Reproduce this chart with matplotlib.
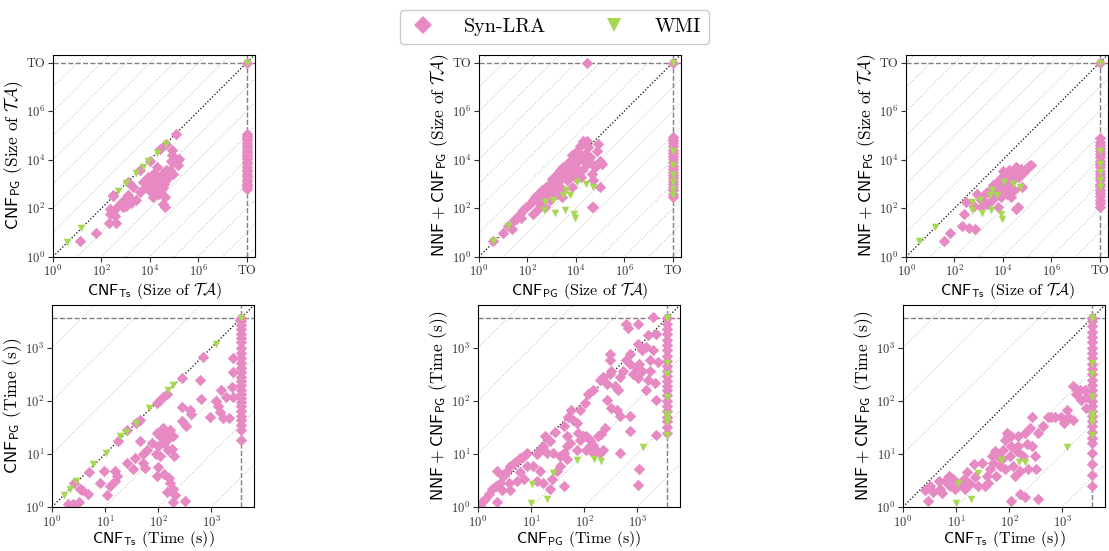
import numpy as np
import matplotlib
matplotlib.use("Agg")
import matplotlib.pyplot as plt
from matplotlib.lines import Line2D
from matplotlib.ticker import NullLocator

plt.rcParams['font.family'] = 'serif'
plt.rcParams['font.serif'] = ['cmr10', 'DejaVu Serif']
plt.rcParams['mathtext.fontset'] = 'cm'
plt.rcParams['axes.formatter.use_mathtext'] = True

PINK = '#e78ac3'
GREEN = '#a6d854'

# timeouts
TO_SIZE = 1e8
TO_TIME = 3600.0

# ---- data: values are log10 of the quantity, read from the log axes ----
# panel 1: CNF_TS vs CNF_PG (size)
p1_syn_x = [1.13, 1.79, 2.3, 2.62, 2.34, 2.62, 2.9, 2.48, 3.1, 3.24, 3.45, 3.31, 3.59, 3.86, 4.0,
            4.14, 4.28, 4.41, 4.55, 4.62, 4.62, 4.69, 4.9, 5.1, 5.21, 5.17, 4.97, 4.14, 4.34, 4.07,
            3.72, 3.93, 4.21, 4.48, 4.69, 4.28, 2.48, 3.1, 3.59, 4.0, 4.41, 4.69, 4.9, 4.87, 4.14,
            4.55, 4.2, 4.35, 4.45, 4.25, 4.5, 4.1, 4.6, 4.3, 3.95, 4.4, 4.55, 4.75, 4.85, 4.95,
            2.35, 2.55, 2.8, 3.0, 3.2, 2.95]
p1_syn_y = [0.64, 1.0, 1.4, 1.4, 1.78, 2.03, 2.05, 2.5, 2.53, 2.2, 2.33, 2.88, 2.67, 2.88, 3.15,
            3.42, 3.7, 3.29, 2.88, 2.47, 2.05, 3.56, 4.4, 5.07, 4.04, 3.77, 3.42, 3.01, 2.88, 2.67,
            3.08, 3.29, 3.22, 3.08, 3.15, 2.6, 2.53, 3.08, 3.56, 3.97, 4.45, 4.66, 4.18, 3.97, 2.47,
            2.19, 2.95, 3.1, 2.75, 3.35, 3.4, 2.8, 3.0, 2.75, 3.05, 2.6, 3.25, 3.3, 3.6, 3.9,
            1.95, 1.7, 2.2, 2.1, 2.4, 2.35]
p1_syn_to_y = [2.78, 2.86, 2.95, 3.02, 3.14, 3.22, 3.35, 3.41, 3.53, 3.6, 3.72, 3.81, 3.9, 4.02,
               4.1, 4.21, 4.33, 4.4, 4.52, 4.6, 4.71, 4.8, 4.9, 5.0, 5.06]
p1_wmi_x = [0.59, 1.17, 2.7, 3.03, 3.45, 3.7, 3.93, 4.28, 4.65]
p1_wmi_y = [0.6, 1.18, 2.72, 3.05, 3.46, 3.72, 3.95, 4.3, 4.67]
p1_wmi_to_y = []

# panel 2: CNF_PG vs NNF + CNF_PG (size)
p2_syn_x = [0.6, 1.0, 1.2, 1.38, 1.69, 1.83, 1.96, 2.1, 2.24, 2.31, 2.45, 2.59, 2.66, 2.79, 2.86,
            2.93, 3.0, 3.07, 3.14, 3.21, 3.28, 3.35, 3.42, 3.49, 3.62, 3.69, 3.76, 3.83, 3.9, 3.97,
            4.04, 4.11, 4.18, 4.25, 4.32, 4.38, 4.45, 4.52, 4.59, 4.66, 4.73, 4.8, 4.87, 4.94, 5.0,
            5.08, 5.0, 4.66, 4.73, 3.62, 3.49, 3.83, 3.21, 3.0, 2.72, 2.52, 2.38, 2.24, 2.93, 3.42,
            4.18, 4.04, 4.45, 3.3, 3.55, 3.7, 3.9, 4.1, 3.8, 2.7, 2.55, 3.1, 3.3, 3.6, 4.3, 4.6,
            4.2, 1.45, 1.55, 1.75]
p2_syn_y = [0.64, 0.99, 1.26, 1.16, 1.78, 1.92, 2.05, 2.19, 2.33, 2.47, 2.6, 2.74, 2.47, 2.88, 2.67,
            3.01, 3.22, 3.15, 2.88, 3.42, 3.08, 3.56, 3.29, 3.7, 3.84, 3.49, 3.97, 4.18, 3.7, 3.29,
            4.38, 3.97, 4.59, 3.56, 4.79, 4.25, 3.84, 4.52, 4.11, 3.42, 3.15, 3.7, 4.38, 4.66, 3.97,
            3.84, 2.88, 2.05, 2.05, 3.15, 2.74, 2.88, 2.6, 2.47, 2.05, 2.19, 1.92, 1.78, 2.33, 2.47,
            4.25, 4.04, 4.79, 3.3, 3.4, 3.2, 3.5, 3.6, 3.6, 2.8, 2.4, 2.75, 2.9, 3.55, 4.0, 3.9,
            3.3, 1.5, 1.55, 1.6]
p2_syn_to_y = [2.47, 2.6, 2.75, 2.88, 3.0, 3.12, 3.25, 3.38, 3.5, 3.62, 3.75, 3.9, 4.02, 4.15,
               4.3, 4.42, 4.55, 4.7, 4.82, 4.93]
p2_syn_top_x = [4.45]  # finished in CNF_PG, timed out with NNF
p2_wmi_x = [0.6, 1.2, 2.72, 2.7, 3.07, 3.14, 3.46, 3.55, 3.76, 3.58, 3.93, 3.97, 4.07, 4.41, 4.73]
p2_wmi_y = [0.64, 1.26, 2.26, 1.92, 2.36, 1.81, 2.53, 1.92, 2.53, 2.77, 1.78, 1.58, 3.08, 3.01, 2.88]
p2_wmi_to_y = [4.38, 3.77, 3.36, 3.08, 2.81, 2.53]

# panel 3: CNF_TS vs NNF + CNF_PG (size)
p3_syn_x = [1.56, 1.81, 2.32, 2.6, 2.85, 2.46, 2.39, 2.81, 3.08, 2.95, 3.22, 3.36, 3.5, 3.57, 3.71,
            3.78, 3.85, 3.98, 4.05, 4.12, 4.19, 4.26, 4.33, 4.4, 4.47, 4.54, 4.61, 4.54, 4.68, 4.74,
            4.88, 5.02, 5.16, 3.91, 3.64, 4.19, 4.47, 4.81, 3.85, 4.26, 4.05, 3.36, 3.08, 3.95, 4.3,
            4.6, 4.1, 3.7, 4.4, 4.9, 5.1, 4.0, 3.6]
p3_syn_y = [0.64, 1.0, 1.27, 1.2, 1.14, 2.26, 1.75, 2.08, 2.33, 2.6, 2.53, 2.19, 2.74, 2.33, 2.88,
            2.05, 3.15, 3.29, 2.74, 3.42, 3.01, 3.56, 2.47, 3.15, 3.42, 3.7, 2.05, 1.99, 3.29, 3.63,
            3.49, 3.7, 3.77, 2.47, 2.47, 2.6, 2.74, 2.88, 2.67, 2.88, 3.08, 2.67, 2.05, 3.0, 3.2,
            3.4, 2.9, 2.6, 3.5, 3.6, 3.75, 3.55, 2.95]
p3_syn_to_y = [2.05, 2.2, 2.35, 2.5, 2.62, 2.75, 2.9, 3.02, 3.15, 3.3, 3.42, 3.55, 3.7, 3.82,
               3.95, 4.1, 4.22, 4.35, 4.5, 4.62, 4.75, 4.88]
p3_wmi_x = [0.55, 1.19, 2.74, 2.74, 3.06, 3.15, 3.46, 3.53, 3.75, 3.57, 3.91, 3.96, 4.05, 4.4, 4.72]
p3_wmi_y = [0.64, 1.23, 2.26, 1.92, 2.36, 1.81, 2.53, 1.92, 2.53, 2.77, 1.75, 1.55, 3.08, 2.99, 2.88]
p3_wmi_to_y = [4.38, 3.84, 3.49, 3.15, 2.88]

# panel 4: CNF_TS vs CNF_PG (time)
p4_syn_x = [0.42, 1.25, 1.59, 1.97, 2.09, 2.16, 2.44, 2.84, 1.41, 1.66, 2.03, 3.53,
            0.69, 0.53, 0.56, 0.5, 0.67, 0.91, 1.03, 1.19, 1.09, 1.22, 1.19, 1.41, 1.53, 1.56,
            1.72, 1.75, 1.78, 1.66, 1.88, 1.97, 2.03, 2.09, 2.16, 2.19, 2.22, 2.28, 2.03, 1.97,
            2.16, 2.28, 2.31, 2.28, 2.22, 2.5, 2.44, 2.53, 2.62, 2.59, 2.44, 2.78, 2.81, 3.09,
            3.12, 3.16, 2.97, 3.19, 3.28, 3.41, 3.41, 3.38, 3.41, 3.22, 3.34, 1.72, 0.97,
            2.0, 2.1, 2.15, 1.95, 2.25, 2.3, 2.0, 2.1, 2.2, 0.4, 0.3]
p4_syn_y = [0.45, 1.24, 1.58, 1.95, 2.07, 2.13, 2.43, 2.83, 1.45, 1.64, 2.01, 3.52,
            0.66, 0.34, 0.31, 0.09, 0.25, 0.46, 0.22, 0.49, 0.4, 0.59, 0.68, 0.83, 0.71, 0.93,
            0.99, 0.74, 1.08, 1.24, 1.21, 1.39, 1.33, 1.48, 1.27, 1.08, 1.45, 1.33, 0.96, 0.59,
            0.28, 0.34, 0.22, 0.09, 0.46, 0.12, 1.61, 1.52, 1.76, 1.82, 1.89, 2.39, 2.03, 2.0,
            1.9, 1.79, 1.7, 2.2, 2.08, 2.8, 2.54, 2.26, 2.08, 1.67, 1.67, 0.83, 0.68,
            1.15, 1.2, 1.35, 1.0, 1.1, 0.95, 0.75, 0.62, 0.55, 0.05, 0.05]
p4_syn_to_y = [1.27, 1.45, 1.55, 1.63, 1.72, 1.8, 1.9, 1.98, 2.05, 2.12, 2.2, 2.3, 2.38, 2.45,
               2.55, 2.62, 2.72, 2.8, 2.9, 3.0, 3.1, 3.18, 3.25, 3.35, 3.42, 3.5]
p4_wmi_x = [0.22, 0.33, 0.46, 0.78, 1.02, 1.28, 1.39, 1.58, 1.83, 2.18, 2.28, 3.09]
p4_wmi_y = [0.23, 0.34, 0.49, 0.8, 1.01, 1.33, 1.42, 1.59, 1.86, 2.2, 2.29, 3.06]
p4_wmi_to_y = []

# panel 5: CNF_PG vs NNF + CNF_PG (time)
p5_syn_x = [0.03, 0.08, 0.14, 0.2, 0.26, 0.33, 0.42, 0.48, 0.54, 0.61, 0.67, 0.73, 0.79, 0.86, 0.92,
            0.36, 0.45, 0.58, 0.61, 0.73, 0.79, 0.86, 1.04, 1.11, 1.17, 1.23, 1.26, 1.29, 1.36, 1.42,
            1.45, 1.54, 1.61, 1.67, 1.61, 1.7, 1.76, 1.67, 1.79, 1.86, 1.89, 1.92, 2.01, 1.98, 2.04,
            2.11, 2.17, 2.23, 2.08, 2.17, 2.29, 2.36, 2.42, 2.48, 2.51, 2.58, 2.42, 2.51, 2.61, 2.63,
            2.67, 2.73, 2.79, 2.86, 2.92, 2.98, 3.01, 3.08, 3.17, 3.23, 3.29, 3.36, 3.39, 3.33, 3.36,
            3.2, 3.23, 3.17, 3.08, 3.04, 3.01, 2.79, 2.83, 3.01, 3.29, 3.2, 2.48, 2.49, 2.86, 2.67,
            2.86, 2.86, 2.67, 3.04, 3.01, 3.36, 2.32, 2.39, 2.26, 1.73, 1.86, 1.92, 2.04, 2.11, 2.17,
            2.29, 2.36, 1.67, 1.54, 1.61, 1.36, 1.23, 1.39, 1.48, 1.17, 0.92, 0.36, 1.11]
p5_syn_y = [0.03, 0.09, 0.15, 0.25, 0.34, 0.4, 0.46, 0.59, 0.68, 0.77, 0.83, 0.87, 0.93, 0.96, 1.02,
            0.09, 0.31, 0.46, 0.31, 0.49, 0.65, 0.53, 0.77, 0.99, 1.08, 1.14, 1.33, 1.01, 1.24, 1.02,
            1.42, 0.96, 1.02, 1.14, 1.52, 1.7, 1.82, 1.33, 1.64, 1.58, 1.39, 1.82, 1.95, 1.33, 1.33,
            1.27, 1.17, 1.08, 2.13, 2.2, 2.39, 2.45, 2.32, 2.51, 2.57, 2.27, 2.02, 1.86, 1.83, 2.2,
            2.45, 2.57, 2.76, 2.7, 2.51, 2.64, 3.07, 2.95, 3.01, 2.76, 2.95, 3.26, 2.73, 2.33, 2.02,
            2.39, 2.57, 2.2, 2.57, 2.7, 2.42, 3.45, 3.37, 3.45, 3.57, 3.23, 2.88, 2.76, 2.88, 1.71,
            1.71, 1.43, 1.02, 0.71, 0.42, 1.36, 1.37, 1.49, 1.33, 1.21, 1.08, 1.27, 1.08, 1.14, 1.02,
            1.02, 1.08, 0.9, 0.77, 0.4, 0.34, 0.46, 0.52, 0.68, 0.68, 0.77, 0.68, 0.48]
p5_syn_to_y = [1.39, 1.5, 1.62, 1.7, 1.8, 1.9, 2.0, 2.1, 2.2, 2.28, 2.38, 2.47, 2.56, 2.65, 2.75,
               2.85, 2.95, 3.05, 3.15, 3.25, 3.35, 3.45, 3.56]
p5_wmi_x = [1.01, 1.0, 1.3, 1.42, 1.87, 2.18, 2.31, 3.11]
p5_wmi_y = [0.43, 0.07, 0.14, 0.64, 0.88, 0.9, 0.87, 1.13]
p5_wmi_to_y = [3.56, 2.72, 2.5, 2.07, 1.76, 1.67, 1.6, 1.36]

# panel 6: CNF_TS vs NNF + CNF_PG (time)
p6_syn_x = [0.42, 0.48, 0.67, 0.7, 0.73, 0.79, 0.86, 0.89, 0.95, 0.98, 1.08, 1.14, 1.17, 1.2, 1.26,
            1.33, 1.36, 1.42, 1.48, 1.54, 1.58, 1.64, 1.7, 1.73, 1.76, 1.79, 1.83, 1.86, 1.89, 1.92,
            1.95, 1.98, 2.01, 2.04, 2.08, 2.11, 2.14, 2.17, 2.2, 2.26, 2.29, 2.33, 2.36, 2.39, 2.42,
            2.48, 2.51, 2.54, 2.64, 2.73, 2.79, 2.86, 2.98, 3.08, 3.11, 3.04, 3.2, 3.2, 3.26, 3.33,
            3.36, 3.42, 3.45, 3.45, 2.42, 2.17, 2.04, 1.92, 1.67, 1.61, 2.04, 2.2, 2.29, 2.54,
            0.51, 0.57]
p6_syn_y = [0.31, 0.12, 0.48, 0.34, 0.27, 0.49, 0.59, 0.4, 0.53, 0.34, 0.46, 0.53, 0.34, 0.65, 0.43,
            0.8, 0.56, 0.4, 0.83, 0.4, 0.59, 0.71, 0.83, 1.05, 0.59, 0.96, 0.77, 0.9, 1.08, 0.71,
            1.39, 1.33, 0.96, 1.14, 0.77, 0.59, 1.05, 1.33, 0.68, 0.96, 1.39, 1.18, 0.71, 1.49, 1.14,
            0.96, 0.71, 1.39, 1.52, 1.7, 1.7, 1.7, 1.7, 1.82, 1.7, 1.58, 1.64, 2.27, 2.13, 2.2,
            2.02, 2.2, 1.86, 2.08, 1.7, 1.14, 1.33, 1.27, 0.96, 0.46, 0.12, 0.25, 0.19, 0.15,
            0.4, 0.28]
p6_syn_to_y = [0.4, 0.6, 0.8, 1.02, 1.2, 1.3, 1.42, 1.52, 1.62, 1.72, 1.8, 1.9, 2.0, 2.1, 2.2,
               2.3, 2.4, 2.5, 2.6, 2.7, 2.8, 2.9, 3.0, 3.1, 3.2, 3.3, 3.4, 3.5, 3.56]
p6_wmi_x = [1.04, 1.0, 1.29, 1.41, 1.84, 2.18, 2.29, 3.09]
p6_wmi_y = [0.45, 0.07, 0.14, 0.64, 0.88, 0.85, 0.85, 1.13]
p6_wmi_to_y = [3.56, 2.72, 2.5, 2.07, 1.76, 1.67, 1.6, 1.36]

size_ticks = [1, 1e2, 1e4, 1e6, TO_SIZE]
size_labels = ['$10^{0}$', '$10^{2}$', '$10^{4}$', '$10^{6}$', 'TO']
time_ticks = [1, 10, 100, 1000]
time_labels = ['$10^{0}$', '$10^{1}$', '$10^{2}$', '$10^{3}$']

SIZE = r'(Size of $\mathcal{TA}$)'
TIME = r'(Time (s))'
CNF_TS = r'$\mathsf{CNF}_{\mathsf{Ts}}$ '
CNF_PG = r'$\mathsf{CNF}_{\mathsf{PG}}$ '
NNF_PG = r'$\mathsf{NNF} + \mathsf{CNF}_{\mathsf{PG}}$ '

fig = plt.figure(figsize=(11.09, 5.51), dpi=100)

W = 0.182
positions = [
    [0.0478, 0.534, W, 0.367], [0.4319, 0.534, W, 0.367], [0.8170, 0.534, W, 0.367],
    [0.0469, 0.08, W, 0.366], [0.4310, 0.08, W, 0.366], [0.8142, 0.08, W, 0.366],
]


def draw(ax, to, hi, sx, sy, s_to_y, wx, wy, w_to_y, ticks, labels, xlab, ylab, top_x=(),
         xlab_y=-0.115):
    lo = 1.0
    ax.set_xscale('log')
    ax.set_yscale('log')
    ax.set_xlim(lo, hi)
    ax.set_ylim(lo, hi)
    # grey reference lines y = x * 10^k
    xx = np.array([lo, hi])
    for k in range(-12, 13):
        if k == 0:
            continue
        ax.plot(xx, xx * 10.0 ** k, ls=':', color='#c8c8c8', lw=0.8, zorder=1)
    ax.plot(xx, xx, ls=':', color='k', lw=0.9, zorder=1)
    ax.axvline(to, ls='--', color='grey', lw=1.0, zorder=1)
    ax.axhline(to, ls='--', color='grey', lw=1.0, zorder=1)

    syn_x = list(10.0 ** np.array(sx)) + [to] * len(s_to_y) + list(10.0 ** np.array(top_x)) + [to]
    syn_y = list(10.0 ** np.array(sy)) + list(10.0 ** np.array(s_to_y)) + [to] * len(top_x) + [to]
    wmi_x = list(10.0 ** np.array(wx)) + [to] * len(w_to_y) + [to]
    wmi_y = list(10.0 ** np.array(wy)) + list(10.0 ** np.array(w_to_y)) + [to]
    ax.scatter(syn_x, syn_y, marker='D', s=34, color=PINK, lw=0, zorder=2)
    ax.scatter(wmi_x, wmi_y, marker='v', s=30, color=GREEN, lw=0, zorder=3)

    ax.set_xticks(ticks)
    ax.set_xticklabels(labels)
    ax.set_yticks(ticks)
    ax.set_yticklabels(labels)
    ax.xaxis.set_minor_locator(NullLocator())
    ax.yaxis.set_minor_locator(NullLocator())
    ax.tick_params(labelsize=9, colors='#333333', labelcolor='#333333', pad=2)
    ax.set_xlabel(xlab, fontsize=11.5)
    ax.set_ylabel(ylab, fontsize=12.5)
    ax.xaxis.set_label_coords(0.5, xlab_y)
    ax.yaxis.set_label_coords(-0.14, 0.5)


panels = [
    (TO_SIZE, 2.2e8, p1_syn_x, p1_syn_y, p1_syn_to_y, p1_wmi_x, p1_wmi_y, p1_wmi_to_y,
     size_ticks, size_labels, CNF_TS + SIZE, CNF_PG + SIZE, (), -0.115),
    (TO_SIZE, 2.2e8, p2_syn_x, p2_syn_y, p2_syn_to_y, p2_wmi_x, p2_wmi_y, p2_wmi_to_y,
     size_ticks, size_labels, CNF_PG + SIZE, NNF_PG + SIZE, p2_syn_top_x, -0.115),
    (TO_SIZE, 2.2e8, p3_syn_x, p3_syn_y, p3_syn_to_y, p3_wmi_x, p3_wmi_y, p3_wmi_to_y,
     size_ticks, size_labels, CNF_TS + SIZE, NNF_PG + SIZE, (), -0.115),
    (TO_TIME, 6300, p4_syn_x, p4_syn_y, p4_syn_to_y, p4_wmi_x, p4_wmi_y, p4_wmi_to_y,
     time_ticks, time_labels, CNF_TS + TIME, CNF_PG + TIME, (), -0.11),
    (TO_TIME, 6300, p5_syn_x, p5_syn_y, p5_syn_to_y, p5_wmi_x, p5_wmi_y, p5_wmi_to_y,
     time_ticks, time_labels, CNF_PG + TIME, NNF_PG + TIME, (), -0.11),
    (TO_TIME, 6300, p6_syn_x, p6_syn_y, p6_syn_to_y, p6_wmi_x, p6_wmi_y, p6_wmi_to_y,
     time_ticks, time_labels, CNF_TS + TIME, NNF_PG + TIME, (), -0.11),
]

for pos, args in zip(positions, panels):
    ax = fig.add_axes(pos)
    draw(ax, *args)

handles = [
    Line2D([], [], ls='', marker='D', markersize=9, color=PINK, markeredgewidth=0),
    Line2D([], [], ls='', marker='v', markersize=10, color=GREEN, markeredgewidth=0),
]
fig.legend(handles, ['Syn-LRA', 'WMI'], loc='upper center', bbox_to_anchor=(0.5, 1.0),
           ncol=2, fontsize=14.5, handlelength=1.5, handletextpad=1.3, columnspacing=2.6,
           borderpad=0.4, fancybox=True, edgecolor='#cccccc', framealpha=1)

fig.savefig('out.png', dpi=100)
